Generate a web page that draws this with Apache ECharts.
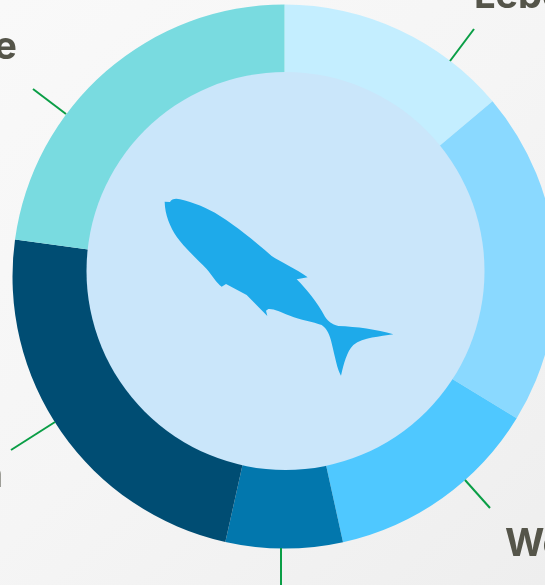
<!DOCTYPE html>
<html><head><meta charset="utf-8">
<style>html,body{margin:0;padding:0;overflow:hidden;background:#f5f5f5}#c{width:545px;height:585px}</style>
<script src="https://cdn.jsdelivr.net/npm/echarts@6/dist/echarts.min.js"></script>
</head><body><div id="c"></div>
<script>
const categories = ['Lebe', 'A', 'We', 'B', 'n', 'e'];
const values = [13.86, 19.86, 12.83, 6.94, 23.68, 22.83];
const colors = ['#c4eeff', '#8ad9ff', '#4fc8ff', '#0277ad', '#004d73', '#79dbe0'];
const leaderLines = [[450,61,474,29],[33,89,66,114],[11,450,55,422],[465,480,490,508],[281,548,281,585]];
const visibleLabels = [['Lebe',474,16,'left'],['We',505,564,'left'],['e',17,67,'right'],['n',3,495,'right']];
const fishPath = 'M104 95 L120 96 C125 88 135 84 150 88 C190 98 230 112 270 138 C320 170 370 210 425 258 C450 275 500 297 533 322 L500 328 C530 358 560 395 585 440 C595 455 605 462 625 468 C680 470 740 478 790 493 C750 500 700 502 670 525 C650 545 642 580 633 617 C622 600 615 560 605 520 C600 495 590 475 575 465 C550 455 510 450 480 437 C450 425 430 415 415 417 L408 422 L412 438 L350 375 L288 342 L275 350 C260 340 245 315 230 297 C200 265 165 235 140 200 C120 170 105 135 104 95 Z';

echarts.graphic.registerShape('fish', echarts.graphic.extendPath(fishPath, {}));

const chart = echarts.init(document.getElementById('c'), null, {renderer:'canvas'});
chart.setOption({
  animation:false,
  backgroundColor:new echarts.graphic.LinearGradient(0,0,1,1,[{offset:0,color:'#f9f9f9'},{offset:0.5,color:'#f5f5f5'},{offset:1,color:'#eeeeee'}]),
  series:[
    {type:'pie',silent:true,center:[284.5,276.5],radius:[150,272],startAngle:90,clockwise:true,
     label:{show:false},labelLine:{show:false},
     data:categories.map((n,i)=>({name:n,value:values[i],itemStyle:{color:colors[i]}}))},
    {type:'pie',silent:true,center:[285.5,271],radius:[0,199],label:{show:false},labelLine:{show:false},
     data:[{name:'inner',value:1,itemStyle:{color:'#cae6fa'}}]}
  ],
  graphic:[
    ...leaderLines.map(l=>({type:'line',z:10,shape:{x1:l[0],y1:l[1],x2:l[2],y2:l[3]},style:{stroke:'#0a9e46',lineWidth:2}})),
    ...visibleLabels.map(t=>({type:'text',z:10,x:t[1],y:t[2],style:{text:t[0],fill:'#55554a',font:'700 38px Inter',textAlign:t[3],textVerticalAlign:'bottom'}})),
    {type:'fish',z:10,x:130,y:170,scaleX:1/3,scaleY:1/3,style:{fill:'#1eaaea'}}
  ]
});
</script></body></html>
